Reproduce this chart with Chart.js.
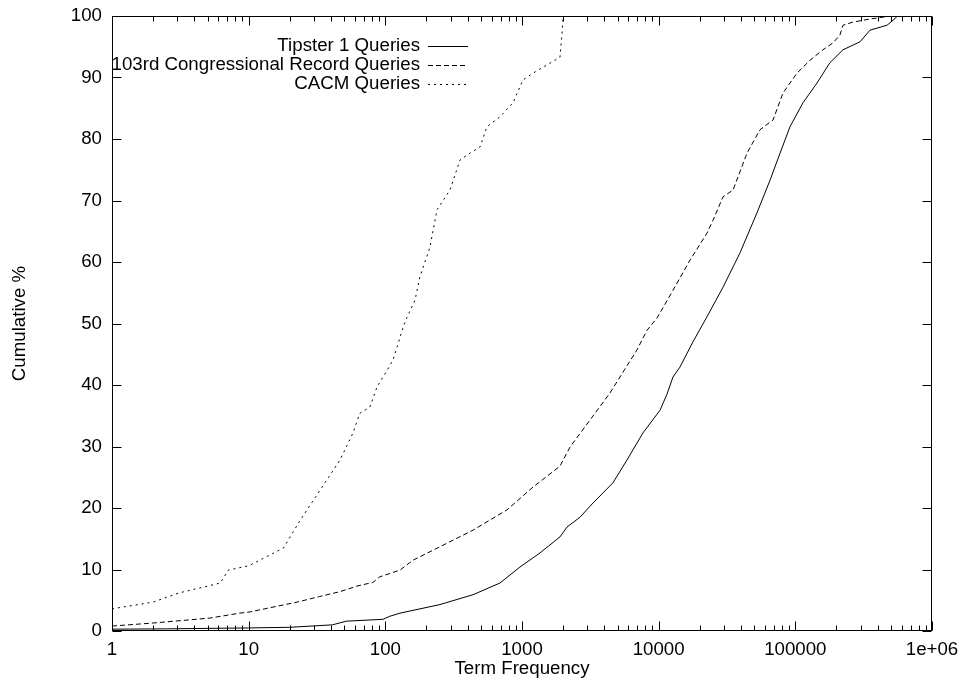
<!DOCTYPE html>
<html><head><meta charset="utf-8">
<script src="https://cdn.jsdelivr.net/npm/chart.js@4"></script>
<style>html,body{margin:0;padding:0;background:#fff}#wrap{width:958px;height:680px}</style>
</head><body><div id="wrap"><canvas id="c" width="958" height="680"></canvas></div>
<script>
const xTicks=[1,10,100,1000,10000,100000,1000000];
const xTickLabels=['1','10','100','1000','10000','100000','1e+06'];
const yTicks=[0,10,20,30,40,50,60,70,80,90,100];
const yTickLabels=['0','10','20','30','40','50','60','70','80','90','100'];
const seriesNames=['Tipster 1 Queries','103rd Congressional Record Queries','CACM Queries'];

const tipsterX=[1,2.5,10,20,41,52,96,108,128,251,438,690,966,1355,1896,2134,2655,3304,4630,5865,7670,10230,11500,12730,14300,17800,22580,29570,39400,52400,65300,77300,91400,113800,144000,179000,223000,297000,352000,469000,518000,560000];
const tipsterY=[0.3,0.35,0.5,0.6,1.0,1.6,1.9,2.4,2.9,4.3,5.9,7.8,10.4,12.7,15.3,16.9,18.5,20.8,24.1,27.8,32.2,35.9,38.5,41.3,42.9,47.0,51.1,55.9,61.5,68,73.3,77.7,82,85.9,89.1,92.4,94.5,95.8,97.7,98.5,99.3,100];

const congX=[1,2,5.2,8.6,10.2,22.6,33,46.6,62,81,91,128,159,251,438,777,1203,1896,2244,3143,4401,5210,6937,8218,9726,12730,16950,22580,25000,29570,35000,44300,55100,68700,81300,102800,128000,159000,188000,212000,223000,263000,350000,500000];
const congY=[0.8,1.3,2.1,2.9,3.1,4.7,5.6,6.4,7.3,7.9,8.8,9.9,11.5,13.7,16.4,19.7,23.4,26.8,29.9,34.3,38.7,41.3,45.7,48.9,50.9,55.4,60.3,64.7,66.8,70.6,71.7,77.7,81.5,83.1,87.5,90.7,92.8,94.5,95.6,96.9,98.5,99.0,99.5,100];

const cacmX=[1,2,3.1,6.2,7.1,10,18,23.8,33.3,46.6,58,65,77,87,103,114,122,135,144,165,179,212,239,297,352,416,493,554,690,860,1016,1203,1896,1963,2000];
const cacmY=[3.6,4.7,6.2,7.8,9.9,10.6,13.5,18,22.9,27.8,32.2,35.4,36.4,39.7,42.4,44.1,46.2,49.4,51,53.8,57.6,62.4,68.5,71.7,76.6,77.7,78.7,82,83.6,85.9,89.6,90.7,93.3,97.2,100];

const pts=(xs,ys)=>xs.map((x,i)=>({x:x,y:ys[i]}));
const FONT='"Liberation Sans", Arial, Helvetica, sans-serif';
const FS=18.7;
const dashes=[[],[5,3],[2,4]];

const framePlugin={
  id:'frame',
  afterDraw(chart){
    const ctx=chart.ctx, a=chart.chartArea, xs=chart.scales.x, ys=chart.scales.y;
    const L=Math.round(a.left)+0.5, R=Math.round(a.right)-0.5, T=Math.round(a.top)+0.5, B=Math.round(a.bottom)-0.5;
    ctx.save();
    ctx.strokeStyle='#000'; ctx.lineWidth=1; ctx.setLineDash([]);
    ctx.strokeRect(L,T,R-L,B-T);
    ctx.beginPath();
    const maj=9, min=5;
    for(let d=0; d<6; d++){
      for(let m=2;m<=9;m++){
        const px=Math.round(xs.getPixelForValue(m*Math.pow(10,d)))+0.5;
        ctx.moveTo(px,B); ctx.lineTo(px,B-min);
        ctx.moveTo(px,T); ctx.lineTo(px,T+min);
      }
    }
    xTicks.forEach(v=>{const px=Math.round(xs.getPixelForValue(v))+0.5;ctx.moveTo(px,B);ctx.lineTo(px,B-maj);ctx.moveTo(px,T);ctx.lineTo(px,T+maj);});
    yTicks.forEach(v=>{const py=Math.round(ys.getPixelForValue(v))+0.5;ctx.moveTo(L,py);ctx.lineTo(L+maj,py);ctx.moveTo(R,py);ctx.lineTo(R-maj,py);});
    ctx.stroke();
    // key
    ctx.font=FS+'px '+FONT; ctx.fillStyle='#000'; ctx.textAlign='right'; ctx.textBaseline='middle';
    const rows=[46,65,84];
    seriesNames.forEach((n,i)=>{
      ctx.fillText(n,420,rows[i]);
      ctx.beginPath(); ctx.setLineDash(dashes[i]);
      ctx.moveTo(428,rows[i]+0.5); ctx.lineTo(468,rows[i]+0.5); ctx.stroke();
    });
    ctx.restore();
  }
};

new Chart(document.getElementById('c'),{
  type:'line',
  data:{datasets:[
    {label:seriesNames[0],data:pts(tipsterX,tipsterY),borderColor:'#000',borderWidth:1,borderDash:dashes[0],pointRadius:0,tension:0,fill:false},
    {label:seriesNames[1],data:pts(congX,congY),borderColor:'#000',borderWidth:1,borderDash:dashes[1],pointRadius:0,tension:0,fill:false},
    {label:seriesNames[2],data:pts(cacmX,cacmY),borderColor:'#000',borderWidth:1,borderDash:dashes[2],pointRadius:0,tension:0,fill:false}
  ]},
  options:{
    responsive:false,animation:false,
    layout:{padding:{top:16,right:26,left:0,bottom:0}},
    plugins:{legend:{display:false},tooltip:{enabled:false}},
    scales:{
      x:{type:'logarithmic',min:1,max:1000000,
        afterBuildTicks:s=>{s.ticks=xTicks.map(v=>({value:v}));},
        afterFit:s=>{s.height=49;s.paddingLeft=0;s.paddingRight=0;},
        grid:{display:false,drawTicks:false},border:{display:false},
        ticks:{autoSkip:false,maxRotation:0,padding:8,color:'#000',font:{family:FONT,size:FS},callback:(v,i)=>xTickLabels[i]},
        title:{display:true,text:'Term Frequency',color:'#000',font:{family:FONT,size:FS},padding:0}
      },
      y:{type:'linear',min:0,max:100,
        afterBuildTicks:s=>{s.ticks=yTicks.map(v=>({value:v}));},
        afterFit:s=>{s.width=112;s.paddingTop=0;s.paddingBottom=0;},
        grid:{display:false,drawTicks:false},border:{display:false},
        ticks:{padding:10,color:'#000',font:{family:FONT,size:FS},callback:(v,i)=>yTickLabels[i]},
        title:{display:true,text:'Cumulative %',color:'#000',font:{family:FONT,size:FS},padding:{top:9,bottom:0}}
      }
    }
  },
  plugins:[framePlugin]
});
</script></body></html>
